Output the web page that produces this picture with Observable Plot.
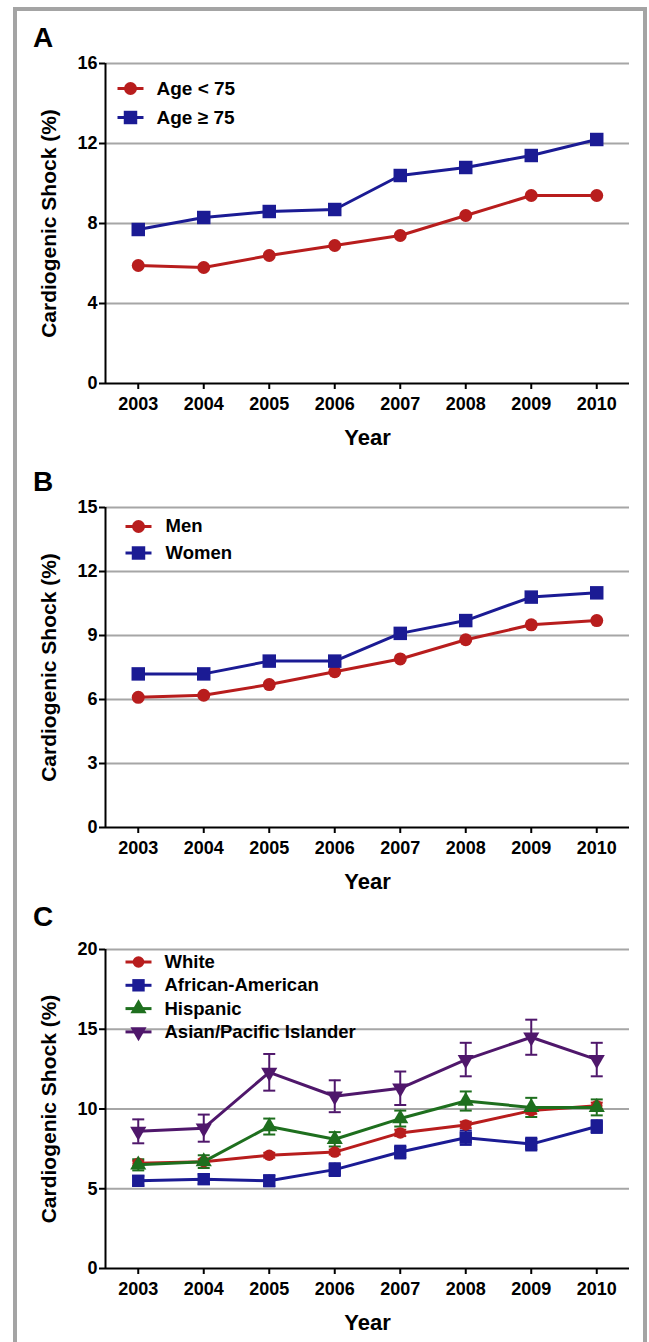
<!DOCTYPE html>
<html><head><meta charset="utf-8">
<script src="https://cdn.jsdelivr.net/npm/d3@7"></script>
<script src="https://cdn.jsdelivr.net/npm/@observablehq/plot@0.6"></script>
<style>
body{margin:0;background:#fff;}
#page{position:relative;width:649px;height:1342px;overflow:hidden;font-family:"Liberation Sans",Arial,sans-serif;background:#fff;}
#frame{position:absolute;left:13px;top:7px;width:626px;height:1400px;border:4px solid #a4a4a4;}
.letter{position:absolute;left:33px;font-size:28px;font-weight:bold;line-height:1;color:#000;}
.panel{position:absolute;left:0;}
</style></head>
<body><div id="page"><div id="frame"></div></div>
<script>
// ---------- data ----------
const years = [2003, 2004, 2005, 2006, 2007, 2008, 2009, 2010];

// Panel A
const ageNames = ["Age < 75", "Age \u2265 75"];
const ageUnder75 = [5.9, 5.8, 6.4, 6.9, 7.4, 8.4, 9.4, 9.4];
const age75Plus  = [7.7, 8.3, 8.6, 8.7, 10.4, 10.8, 11.4, 12.2];
const ageTicks = [0, 4, 8, 12, 16];

// Panel B
const sexNames = ["Men", "Women"];
const men   = [6.1, 6.2, 6.7, 7.3, 7.9, 8.8, 9.5, 9.7];
const women = [7.2, 7.2, 7.8, 7.8, 9.1, 9.7, 10.8, 11.0];
const sexTicks = [0, 3, 6, 9, 12, 15];

// Panel C
const raceNames = ["White", "African-American", "Hispanic", "Asian/Pacific Islander"];
const white           = [6.6, 6.7, 7.1, 7.3, 8.5, 9.0, 9.9, 10.2];
const africanAmerican = [5.5, 5.6, 5.5, 6.2, 7.3, 8.2, 7.8, 8.9];
const hispanic        = [6.5, 6.7, 8.9, 8.1, 9.4, 10.5, 10.1, 10.1];
const asianPI         = [8.6, 8.8, 12.3, 10.8, 11.3, 13.1, 14.5, 13.1];
const whiteErr        = [0.15, 0.15, 0.15, 0.15, 0.2, 0.2, 0.2, 0.2];
const africanAmericanErr = [0.3, 0.3, 0.35, 0.4, 0.4, 0.45, 0.4, 0.4];
const hispanicErr     = [0.35, 0.4, 0.5, 0.45, 0.5, 0.6, 0.6, 0.5];
const asianPIErr      = [0.75, 0.85, 1.15, 1.0, 1.05, 1.05, 1.1, 1.05];
const raceTicks = [0, 5, 10, 15, 20];

const yTitle = "Cardiogenic Shock (%)";
const xTitle = "Year";

// ---------- style ----------
const RED = "#b81d1d", BLUE = "#1b1b94", GREEN = "#1e6f1e", PURPLE = "#4f176b";
const FONT = "'Liberation Sans', Arial, Helvetica, sans-serif";

const lineSym = {draw(ctx, size) { const w = Math.sqrt(size / Math.PI); ctx.moveTo(-w, 0); ctx.lineTo(w, 0); }};

function makePanel(cfg) {
  const {names, series, errors, colors, symbols, radii, rotations, yTicks, plotH, marginTop,
         legend} = cfg;
  const rows = names.flatMap((name, i) => years.map((yr, j) => ({
    series: name, year: yr, value: series[i][j], err: errors ? errors[i][j] : 0
  })));
  const yMax = yTicks[yTicks.length - 1];
  const xDomain = [years[0] - 0.5, years[years.length - 1] + 0.5];
  const marks = [
    Plot.gridY(yTicks.slice(1), {stroke: "#a6a6a6", strokeOpacity: 1, strokeWidth: 2})
  ];
  if (errors) {
    marks.push(
      Plot.ruleX(rows, {x: "year", y1: d => d.value - d.err, y2: d => d.value + d.err, stroke: "series", strokeWidth: 2}),
      Plot.dot(rows, {x: "year", y: d => d.value + d.err, symbol: lineSym, r: 6, stroke: "series", strokeWidth: 2, fill: "none"}),
      Plot.dot(rows, {x: "year", y: d => d.value - d.err, symbol: lineSym, r: 6, stroke: "series", strokeWidth: 2, fill: "none"})
    );
  }
  names.forEach((name, i) => {
    const sub = rows.filter(d => d.series === name);
    marks.push(Plot.line(sub, {x: "year", y: "value", stroke: colors[i], strokeWidth: 3}));
    marks.push(Plot.dot(sub, {x: "year", y: "value", symbol: symbols[i], r: radii[i], fill: colors[i], stroke: "none", rotate: rotations[i]}));
  });
  marks.push(
    Plot.ruleY([0], {stroke: "black", strokeWidth: 2}),
    Plot.ruleX([xDomain[0]], {stroke: "black", strokeWidth: 2}),
    Plot.axisX(years, {tickSize: 6, tickPadding: 8, tickFormat: "d", fontSize: 18, fontWeight: "bold", label: null, strokeWidth: 2}),
    Plot.axisY(yTicks, {tickSize: 6, tickPadding: 2, fontSize: 18, fontWeight: "bold", label: null, strokeWidth: 2}),
    Plot.text([yTitle], {text: d => d, frameAnchor: "left", textAnchor: "middle", lineAnchor: "middle", dx: -56, rotate: -90, fontSize: 21, fontWeight: "bold"}),
    Plot.text([xTitle], {text: d => d, frameAnchor: "bottom", textAnchor: "middle", lineAnchor: "middle", dy: 54, fontSize: 22, fontWeight: "bold"})
  );
  names.forEach((name, i) => {
    const dy = legend.dy0 + i * legend.step;
    marks.push(
      Plot.dot([name], {frameAnchor: "top-left", dx: legend.lineDx, dy, symbol: lineSym, r: 13, stroke: colors[i], strokeWidth: 3, fill: "none"}),
      Plot.dot([name], {frameAnchor: "top-left", dx: legend.lineDx, dy, symbol: symbols[i], r: radii[i], fill: colors[i], stroke: "none", rotate: rotations[i]}),
      Plot.text([name], {frameAnchor: "top-left", dx: legend.textDx, dy, text: d => d, textAnchor: "start", lineAnchor: "middle", fontSize: legend.fontSize, fontWeight: "bold"})
    );
  });
  const marginBottom = 70;
  return Plot.plot({
    width: 649,
    height: marginTop + plotH + marginBottom,
    marginLeft: 105,
    marginRight: 20,
    marginTop,
    marginBottom,
    x: {domain: xDomain, axis: null},
    y: {domain: [0, yMax], axis: null},
    color: {domain: names, range: colors},
    style: {background: "transparent", fontFamily: FONT, fontWeight: "bold", color: "black", overflow: "visible"},
    marks
  });
}

const page = document.getElementById("page");
function place(svg, top) {
  svg.classList.add("panel");
  svg.style.position = "absolute";
  svg.style.top = top + "px";
  svg.style.left = "0px";
  page.appendChild(svg);
}
function letter(txt, top) {
  const d = document.createElement("div");
  d.className = "letter";
  d.textContent = txt;
  d.style.top = top + "px";
  page.appendChild(d);
}

const panelA = makePanel({
  names: ageNames, series: [ageUnder75, age75Plus], colors: [RED, BLUE],
  symbols: ["circle", "square"], radii: [6.5, 7.6], rotations: [0, 0],
  yTicks: ageTicks, plotH: 320, marginTop: 10,
  legend: {dy0: 25, step: 29, lineDx: 25, textDx: 51, fontSize: 19}
});
place(panelA, 53);
letter("A", 24);

const panelB = makePanel({
  names: sexNames, series: [men, women], colors: [RED, BLUE],
  symbols: ["circle", "square"], radii: [6.5, 7.6], rotations: [0, 0],
  yTicks: sexTicks, plotH: 320, marginTop: 10,
  legend: {dy0: 19, step: 26.5, lineDx: 33, textDx: 60, fontSize: 18.5}
});
place(panelB, 497);
letter("B", 468);

const panelC = makePanel({
  names: raceNames, series: [white, africanAmerican, hispanic, asianPI],
  errors: [whiteErr, africanAmericanErr, hispanicErr, asianPIErr],
  colors: [RED, BLUE, GREEN, PURPLE],
  symbols: ["circle", "square", "triangle", "triangle"], radii: [5.8, 7, 6, 6], rotations: [0, 0, 0, 180],
  yTicks: raceTicks, plotH: 319, marginTop: 10,
  legend: {dy0: 12.5, step: 23.3, lineDx: 33, textDx: 59, fontSize: 18.5}
});
place(panelC, 939);
letter("C", 903);
</script>
</body></html>
